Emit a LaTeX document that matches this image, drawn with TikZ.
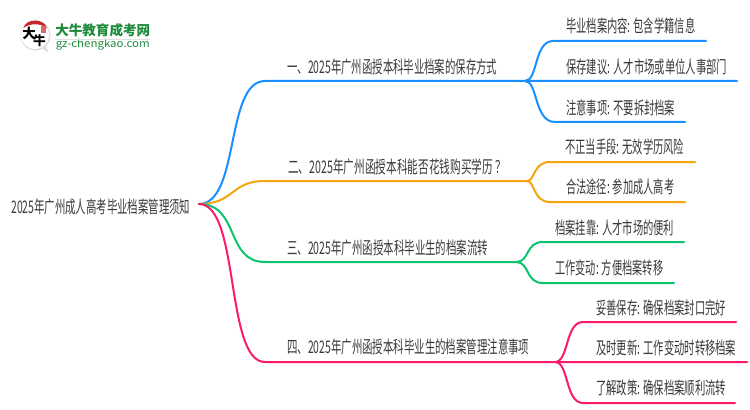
\documentclass[tikz,border=0pt]{standalone}
\usepackage{fontspec}
\usepackage{graphicx}
\setmainfont{Noto Sans CJK SC}
\definecolor{cblue}{HTML}{1890FF}
\definecolor{corange}{HTML}{F5A60F}
\definecolor{cgreen}{HTML}{0CC46E}
\definecolor{cpink}{HTML}{FB1A6E}
\definecolor{ctext}{HTML}{3A3A3A}
\definecolor{logogreen}{HTML}{1E8A3C}
\definecolor{logored}{HTML}{C4282A}
\newdimen\pxu \pxu=0.75pt
\newcommand\fitw[2]{\resizebox{#1\pxu}{\height}{#2}}
\tikzset{
  px/.style={x=0.75pt,y=-0.75pt},
  label/.style={anchor=west,inner sep=0pt,text=ctext,font=\fontsize{13pt}{15pt}\selectfont},
  conn/.style={line width=1.5pt,line cap=round,line join=round},
}
\begin{document}
\begin{tikzpicture}[px]
\useasboundingbox (0,0) rectangle (750,410);
\fill[white] (0,0) rectangle (750,410);
% logo
\fill[black!13] (35.5,35.5) circle (15);
\fill[black!13] (38,46) -- (48.5,52.5) -- (44,42) -- cycle;
\fill[white] (35,35) circle (14);
\fill[logored] (23.5,28) .. controls (26,18) and (44,18) .. (47,28) .. controls (40,23) and (30,23) .. cycle;
\fill[logored!70] (40.5,26.5) rectangle (46,33.5);
\node[inner sep=0pt,font=\fontsize{10pt}{10pt}\bfseries\selectfont,text=black] (logoa) at (29,33) {大};
\node[inner sep=0pt,font=\fontsize{9.5pt}{10pt}\bfseries\selectfont,text=black] (logob) at (39.5,41) {牛};
\node[anchor=west,inner sep=0pt,text=logogreen,font=\fontsize{10.2pt}{10pt}\bfseries\selectfont] (logot) at (55,30) {\fitw{95}{大牛教育成考网}};
\node[anchor=west,inner sep=0pt,text=logogreen,font=\fontsize{8pt}{8pt}\selectfont] (logou) at (55.5,44.5) {\fitw{94}{gz-chengkao.com}};
\draw[black!12,line width=0.6pt] (logot.south west)++(0,2) -- ++(95,0);
% texts
\node[label] (root) at (11,206.5) {\fitw{179}{2025年广州成人高考毕业档案管理须知}};
\node[label] (b1) at (287,67) {\fitw{210}{一、2025年广州函授本科毕业档案的保存方式}};
\node[label] (b2) at (288,167) {\fitw{218}{二、2025年广州函授本科能否花钱购买学历\hspace{0.25em}？}};
\node[label] (b3) at (287,248) {\fitw{201}{三、2025年广州函授本科毕业生的档案流转}};
\node[label] (b4) at (287,347) {\fitw{242}{四、2025年广州函授本科毕业生的档案管理注意事项}};
\node[label] (l11) at (566,25.5) {\fitw{129}{毕业档案内容: 包含学籍信息}};
\node[label] (l12) at (566,66.5) {\fitw{161}{保存建议: 人才市场或单位人事部门}};
\node[label] (l13) at (566,108) {\fitw{109}{注意事项: 不要拆封档案}};
\node[label] (l21) at (565,147) {\fitw{119}{不正当手段: 无效学历风险}};
\node[label] (l22) at (566,187) {\fitw{108}{合法途径: 参加成人高考}};
\node[label] (l31) at (555,228) {\fitw{119}{档案挂靠: 人才市场的便利}};
\node[label] (l32) at (555,268) {\fitw{108}{工作变动: 方便档案转移}};
\node[label] (l41) at (596,308) {\fitw{130}{妥善保存: 确保档案封口完好}};
\node[label] (l42) at (596,348) {\fitw{140}{及时更新: 工作变动时转移档案}};
\node[label] (l43) at (596,388) {\fitw{130}{了解政策: 确保档案顺利流转}};
% junctions
\coordinate (r) at (199,204);
\coordinate (j1s) at (265,81); \coordinate (j1) at (525,81);
\coordinate (j2s) at (265,181); \coordinate (j2) at (527,181);
\coordinate (j3s) at (265,262); \coordinate (j3) at (516,262);
\coordinate (j4s) at (265,362); \coordinate (j4) at (555,362);
\coordinate (e11a) at (553,41); \coordinate (e11) at (706,41);
\coordinate (e12) at (737,81);
\coordinate (e13a) at (555,122); \coordinate (e13) at (685,122);
\coordinate (e21a) at (550,162); \coordinate (e21) at (695,162);
\coordinate (e22a) at (550,202); \coordinate (e22) at (685,202);
\coordinate (e31a) at (543,242); \coordinate (e31) at (684,242);
\coordinate (e32a) at (543,283); \coordinate (e32) at (674,283);
\coordinate (e41a) at (583,322); \coordinate (e41) at (736,322);
\coordinate (e42) at (747,362);
\coordinate (e43a) at (583,403); \coordinate (e43) at (735,403);
% blue
\draw[conn,cblue] (r) .. controls (240,204) and (225,81) .. (j1s) -- (j1) -- (e12);
\draw[conn,cblue] (j1) .. controls (538,81) and (534,41) .. (e11a) -- (e11);
\draw[conn,cblue] (j1) .. controls (538,81) and (534,122) .. (e13a) -- (e13);
% orange
\draw[conn,corange] (r) .. controls (235,204) and (230,181) .. (j2s) -- (j2);
\draw[conn,corange] (j2) .. controls (535,181) and (533,162) .. (e21a) -- (e21);
\draw[conn,corange] (j2) .. controls (535,181) and (533,202) .. (e22a) -- (e22);
% green
\draw[conn,cgreen] (r) .. controls (240,204) and (225,262) .. (j3s) -- (j3);
\draw[conn,cgreen] (j3) .. controls (530,262) and (525,242) .. (e31a) -- (e31);
\draw[conn,cgreen] (j3) .. controls (530,262) and (525,283) .. (e32a) -- (e32);
% pink
\draw[conn,cpink] (r) .. controls (240,204) and (225,362) .. (j4s) -- (j4) -- (e42);
\draw[conn,cpink] (j4) .. controls (569,362) and (565,322) .. (e41a) -- (e41);
\draw[conn,cpink] (j4) .. controls (569,362) and (565,403) .. (e43a) -- (e43);
\end{tikzpicture}
\end{document}
